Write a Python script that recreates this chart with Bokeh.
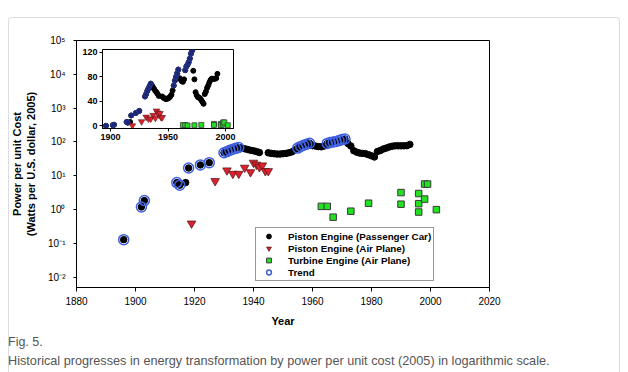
from bokeh.plotting import figure
from bokeh.models import (Range1d, FixedTicker, CustomJSTickFormatter, Legend,
                          LegendItem, Label, Div)
from bokeh.embed import file_html
from bokeh.resources import INLINE

# ---------------- data ----------------
car_years = [1896, 1902, 1903, 1914, 1915, 1917, 1918, 1922, 1925,
             1930, 1931, 1932, 1933, 1934, 1935, 1936, 1937, 1938, 1939, 1940, 1941, 1942,
             1945, 1946, 1947, 1948, 1949, 1950, 1951, 1952, 1953, 1954,
             1955, 1956, 1957, 1958, 1959, 1960, 1961, 1962, 1963, 1964,
             1965, 1966, 1967, 1968, 1969, 1970, 1971, 1972, 1973, 1974,
             1975, 1976, 1977, 1978, 1979, 1980, 1981, 1982, 1983, 1984,
             1985, 1986, 1987, 1988, 1989, 1990, 1991, 1992, 1993]
car_values = [0.13, 1.2, 1.85, 6.3, 5.3, 6.3, 17, 21, 24.5,
              48, 52, 57, 61, 65, 69, 66, 63, 60, 57, 55, 52, 49,
              48, 46, 45, 44, 44, 45, 46, 48, 51, 58,
              66, 74, 80, 86, 92, 78, 76, 73, 72, 76,
              91, 97, 100, 104, 110, 118, 123, 90, 76, 55,
              50, 47, 46, 45, 42, 39, 36, 52, 56, 62,
              66, 71, 75, 77, 77, 77, 77, 78, 85]
trend_years = [1896, 1902, 1903, 1914, 1915, 1918, 1922, 1925,
               1930, 1931, 1932, 1933, 1934, 1935,
               1955, 1956, 1957, 1958, 1959,
               1965, 1966, 1967, 1968, 1969, 1970, 1971]
plane_years = [1919, 1927, 1931, 1933, 1935, 1937, 1939, 1940, 1941, 1942, 1943, 1944, 1945]
plane_values = [0.39, 7, 14.5, 11.5, 11.5, 17.4, 12.8, 24.5, 21.4, 18, 20.4, 13.8, 13.8]
turbine_years = [1963, 1965, 1967, 1973, 1979, 1990, 1990, 1996, 1996, 1996, 1998, 1998, 1999, 2002]
turbine_values = [1.25, 1.25, 0.6, 0.9, 1.55, 3.2, 1.45, 3.0, 1.5, 0.85, 2.05, 5.7, 5.7, 1.0]

x_ticks = [1880, 1900, 1920, 1940, 1960, 1980, 2000, 2020]
y_ticks = [1e-2, 1e-1, 1e0, 1e1, 1e2, 1e3, 1e4, 1e5]
inset_x_ticks = [1900, 1950, 2000]
inset_y_ticks = [0, 40, 80, 120]

legend_labels = ["Piston Engine (Passenger Car)", "Piston Engine (Air Plane)",
                 "Turbine Engine (Air Plane)", "Trend"]
x_label = "Year"
y_label = "Power per unit Cost\n(Watts per U.S. dollar, 2005)"
fig_label = "Fig. 5."
caption = "Historical progresses in energy transformation by power per unit cost (2005) in logarithmic scale."

_lookup = dict(zip(car_years, car_values))
trend_values = [_lookup[y] for y in trend_years]

# ---------------- styles ----------------
FONT = "Liberation Sans"
RED = "#e0202c"
GREEN = "#22e022"
BLUE = "#3d5fe0"
NAVY = "#1c2570"


def place(model, left, top):
    model.styles = {"position": "absolute", "left": f"{left}px", "top": f"{top}px"}


# ---------------- card frame ----------------
card = Div(text="", width=612, height=358)
card.styles = {"position": "absolute", "left": "3px", "top": "12px",
               "border": "1px solid #dddddd", "border-bottom": "none",
               "border-radius": "4px 4px 0 0"}

# ---------------- main plot ----------------
p = figure(width=628, height=372, x_range=Range1d(1880, 2020),
           y_range=Range1d(0.005, 1e5), y_axis_type="log",
           output_backend="svg", toolbar_location=None,
           min_border_left=76, min_border_right=139,
           min_border_top=40, min_border_bottom=85)
place(p, 0, 0)
p.grid.visible = False
p.outline_line_color = "black"
p.outline_line_width = 1
p.background_fill_color = "white"
p.border_fill_color = None

p.xaxis.ticker = FixedTicker(ticks=x_ticks, minor_ticks=[])
p.yaxis.ticker = FixedTicker(ticks=y_ticks, minor_ticks=[])
p.yaxis.formatter = CustomJSTickFormatter(code="""
const e = Math.round(Math.log10(tick));
const sup = {'-':'\u207b','0':'\u2070','1':'\u00b9','2':'\u00b2','3':'\u00b3','4':'\u2074',
             '5':'\u2075','6':'\u2076','7':'\u2077','8':'\u2078','9':'\u2079'};
return '10' + String(e).split('').map(c => sup[c]).join('');
""")
for ax in (p.xaxis[0], p.yaxis[0]):
    ax.axis_line_color = "black"
    ax.major_tick_line_color = "black"
    ax.major_tick_in = 0
    ax.minor_tick_line_color = None
    ax.major_label_text_font = FONT
    ax.major_label_text_font_size = "10px"
    ax.major_label_text_color = "black"
    ax.axis_label_text_font = FONT
    ax.axis_label_text_font_style = "bold"
    ax.axis_label_text_font_size = "11px"
    ax.axis_label_text_color = "black"
p.xaxis.major_tick_out = 4
p.xaxis.major_label_standoff = 5
p.xaxis.axis_label = x_label
p.xaxis.axis_label_standoff = 7
p.yaxis.major_tick_out = 3
p.yaxis.major_label_standoff = 8
p.yaxis.axis_label = y_label
p.yaxis.axis_label_standoff = 8

r_car = p.scatter(car_years, car_values, marker="circle", size=6.5,
                  fill_color="black", line_color="black")
r_trend = p.scatter(trend_years, trend_values, marker="circle", size=10,
                    fill_color=None, line_color=BLUE, line_width=1.5)
r_plane = p.scatter(plane_years, plane_values, marker="inverted_triangle", size=8.5,
                    fill_color=RED, line_color="#5a1c1c", line_width=0.8)
r_turb = p.scatter(turbine_years, turbine_values, marker="square", size=6.5,
                   fill_color=GREEN, line_color="#3a3a3a", line_width=1)

legend = Legend(items=[LegendItem(label=legend_labels[0], renderers=[r_car]),
                       LegendItem(label=legend_labels[1], renderers=[r_plane]),
                       LegendItem(label=legend_labels[2], renderers=[r_turb]),
                       LegendItem(label=legend_labels[3], renderers=[r_trend])],
                location=(179, 6), margin=0, padding=2, spacing=0,
                glyph_width=21, glyph_height=12, label_height=12, label_standoff=9,
                label_text_font=FONT, label_text_font_style="bold",
                label_text_font_size="9.8px", label_text_color="black",
                border_line_color="#333333", border_line_width=1,
                background_fill_color="white", background_fill_alpha=1)
p.add_layout(legend, "center")

# ---------------- inset ----------------
inset = figure(width=163, height=103, x_range=Range1d(1893, 2007),
               y_range=Range1d(-4.3, 124.8), output_backend="svg", toolbar_location=None,
               min_border_left=28, min_border_right=4, min_border_top=4, min_border_bottom=20)
place(inset, 74, 45)
inset.grid.visible = False
inset.outline_line_color = "black"
inset.background_fill_color = "white"
inset.border_fill_color = None
inset.xaxis.ticker = FixedTicker(ticks=inset_x_ticks, minor_ticks=[])
inset.yaxis.ticker = FixedTicker(ticks=inset_y_ticks, minor_ticks=[])
for ax in (inset.xaxis[0], inset.yaxis[0]):
    ax.axis_line_color = "black"
    ax.major_tick_line_color = "black"
    ax.major_tick_in = 0
    ax.major_tick_out = 3
    ax.minor_tick_line_color = None
    ax.major_label_standoff = 2
    ax.major_label_text_font = FONT
    ax.major_label_text_font_style = "bold"
    ax.major_label_text_font_size = "9px"
    ax.major_label_text_color = "black"

inset.scatter(car_years, car_values, marker="circle", size=5,
              fill_color="black", line_color="black")
inset.scatter(trend_years, trend_values, marker="circle", size=5,
              fill_color=NAVY, line_color="#2a3a9a", line_width=0.8)
inset.scatter(plane_years, plane_values, marker="inverted_triangle", size=6.5,
              fill_color=RED, line_color="#5a1c1c", line_width=0.6)
inset.scatter(turbine_years, turbine_values, marker="square", size=5,
              fill_color=GREEN, line_color="#3a3a3a", line_width=0.8)

# ---------------- caption ----------------
cap = figure(width=575, height=40, x_range=Range1d(0, 575), y_range=Range1d(0, 40),
             output_backend="svg", toolbar_location=None,
             x_axis_location=None, y_axis_location=None,
             min_border_left=0, min_border_right=0, min_border_top=0, min_border_bottom=0)
place(cap, 0, 330)
cap.grid.visible = False
cap.outline_line_color = None
cap.background_fill_color = None
cap.border_fill_color = None
cap.add_layout(Label(x=7.5, y=28.5, x_units="screen", y_units="screen", text=fig_label,
                     text_font=FONT, text_font_size="12.5px", text_color="#555555",
                     text_baseline="alphabetic", text_align="left"))
cap.add_layout(Label(x=7.5, y=10, x_units="screen", y_units="screen", text=caption,
                     text_font=FONT, text_font_size="12.7px", text_color="#555555",
                     text_baseline="alphabetic", text_align="left"))

open("out.html", "w").write(file_html([card, p, inset, cap], INLINE))
